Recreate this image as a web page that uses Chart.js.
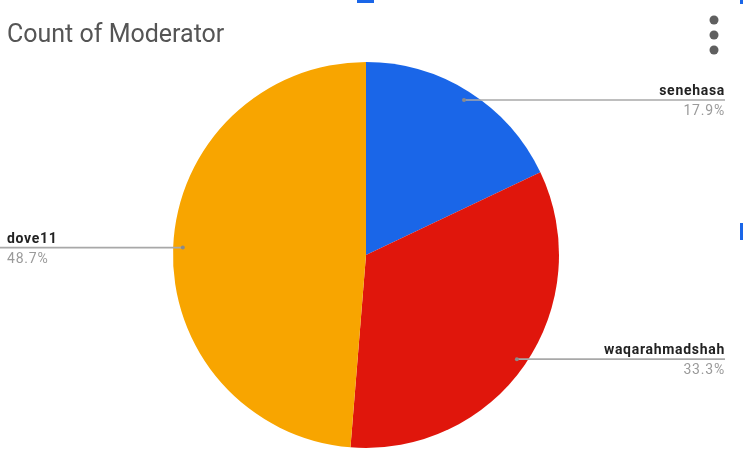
<!DOCTYPE html>
<html><head><meta charset="utf-8">
<script src="https://cdn.jsdelivr.net/npm/chart.js@4.4.1/dist/chart.umd.min.js"></script>
<style>
html,body{margin:0;padding:0;background:#fff;overflow:hidden}
#wrap{position:relative;width:743px;height:453px}
.mark{position:absolute;background:#1a66e8}
</style></head>
<body>
<div id="wrap">
<canvas id="c" width="743" height="453"></canvas>
<div class="mark" style="left:357px;top:0;width:17px;height:3px"></div>
<div class="mark" style="left:740px;top:0;width:3px;height:4px"></div>
<div class="mark" style="left:740px;top:223px;width:3px;height:17px"></div>
</div>
<script>
const titleText = "Count of Moderator";
const categories = ["senehasa", "waqarahmadshah", "dove11"];
const counts = [7, 13, 19];
const colors = ["#1a66e8", "#e0160c", "#f8a500"];

const total = counts.reduce((a,b)=>a+b,0);

const labelPlugin = {
  id: 'leaderLabels',
  afterDraw(chart) {
    const ctx = chart.ctx;
    ctx.save();
    ctx.fillStyle = '#555';
    ctx.font = '25px Roboto';
    ctx.textBaseline = 'alphabetic';
    ctx.textAlign = 'left';
    ctx.fillText(titleText, 7, 42);
    ctx.fillStyle = '#5f5f5f';
    [20, 35, 50].forEach(y => { ctx.beginPath(); ctx.arc(714, y, 4.5, 0, Math.PI*2); ctx.fill(); });
    const meta = chart.getDatasetMeta(0);
    meta.data.forEach((arc, i) => {
      const mid = (arc.startAngle + arc.endAngle) / 2;
      const r = arc.outerRadius * 0.95;
      const px = arc.x + Math.cos(mid) * r;
      const py = arc.y + Math.sin(mid) * r;
      const right = Math.cos(mid) >= 0;
      const endX = right ? 725 : 0;
      ctx.strokeStyle = '#a8a8a8';
      ctx.lineWidth = 1.6;
      ctx.beginPath(); ctx.moveTo(px, py); ctx.lineTo(endX, py); ctx.stroke();
      ctx.fillStyle = '#8a8a8a';
      ctx.beginPath(); ctx.arc(px, py, 2, 0, Math.PI*2); ctx.fill();
      const tx = right ? 725 : 7;
      ctx.textAlign = right ? 'right' : 'left';
      ctx.fillStyle = '#222';
      ctx.font = 'bold 14px Roboto';
      ctx.letterSpacing = '0.7px';
      ctx.fillText(categories[i], tx, py - 5);
      ctx.fillStyle = '#9a9a9a';
      ctx.font = '14px Roboto';
      ctx.letterSpacing = '0.8px';
      const pct = (counts[i] / total * 100).toFixed(1) + '%';
      ctx.fillText(pct, tx, py + 15);
      ctx.letterSpacing = '0px';
    });
    ctx.restore();
  }
};

new Chart(document.getElementById('c'), {
  type: 'pie',
  data: {
    labels: categories,
    datasets: [{ data: counts, backgroundColor: colors, borderWidth: 0 }]
  },
  options: {
    responsive: false,
    animation: false,
    layout: { padding: { left: 173, right: 184, top: 62, bottom: 5 } },
    plugins: { legend: { display: false }, tooltip: { enabled: false }, title: { display: false } }
  },
  plugins: [labelPlugin]
});
</script>
</body></html>
